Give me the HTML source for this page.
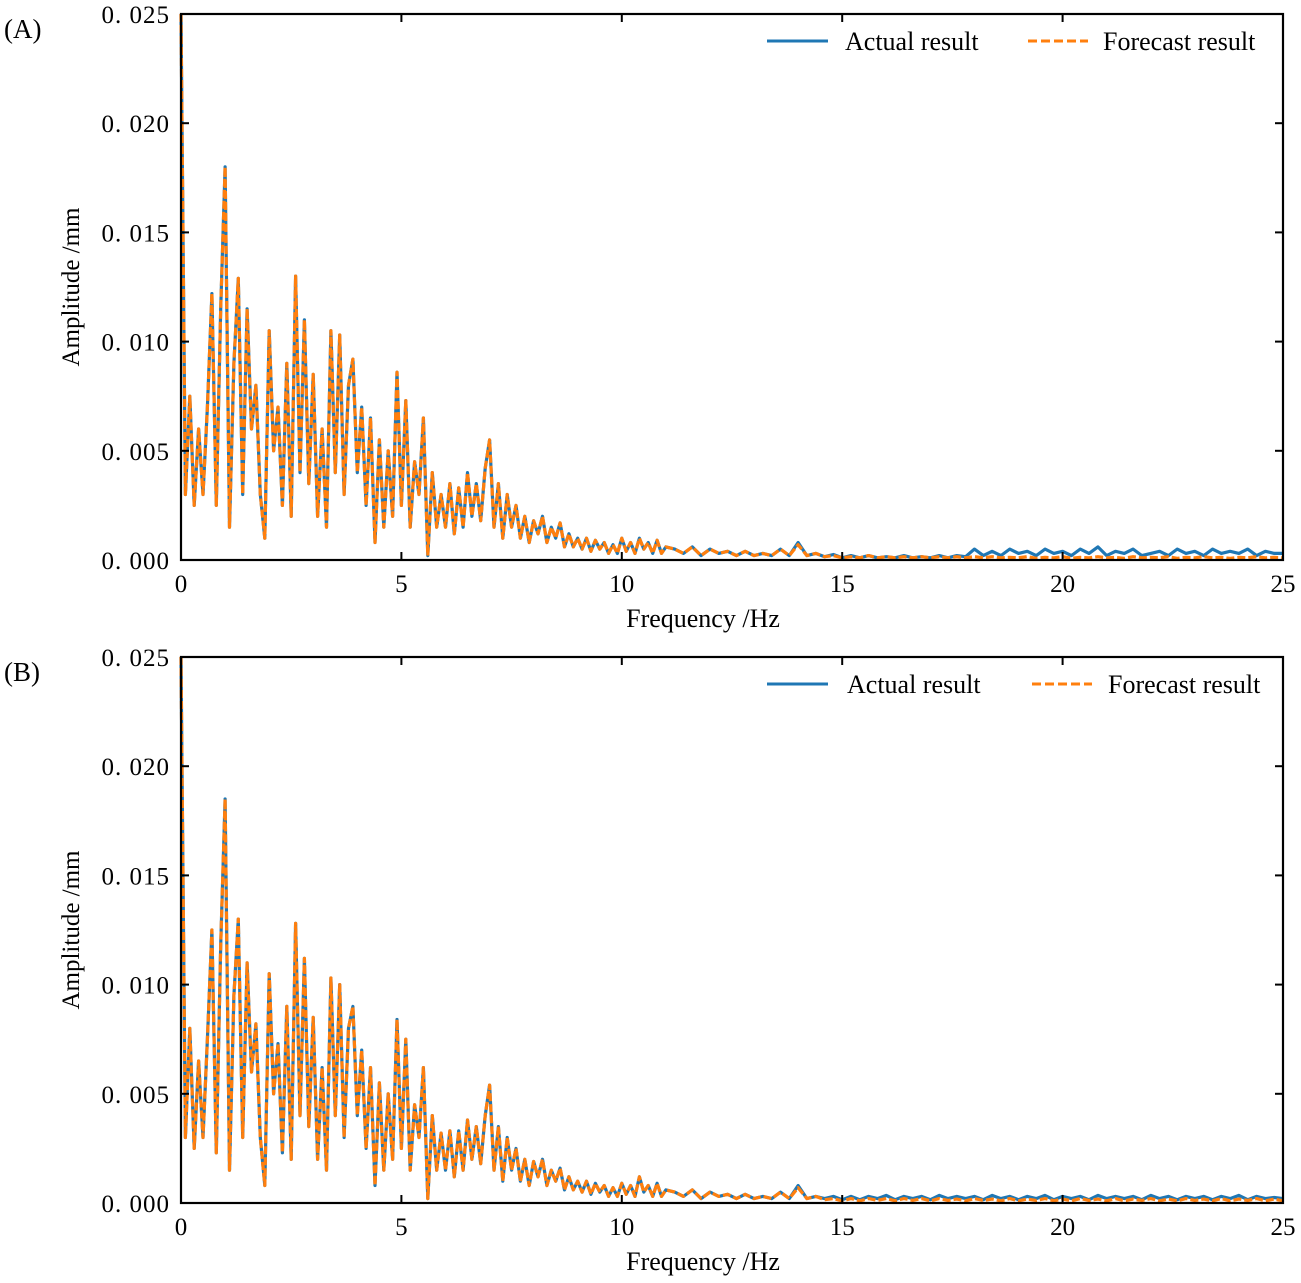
<!DOCTYPE html>
<html><head><meta charset="utf-8"><style>
body{margin:0;background:#fff;}
svg{display:block;font-family:"Liberation Serif",serif;}
</style></head><body>
<svg id="fig" width="1301" height="1283" viewBox="0 0 1301 1283" xmlns="http://www.w3.org/2000/svg"></svg>
<script>
// data (amplitude in 0.001 mm)
const lowStep = 0.1;   // 0..11 Hz
const tailStart = 11.2, tailStep = 0.2; // 11.2..25 Hz
const aActualLow = [25,3,7.5,2.5,6,3,7,12.2,2.5,11.5,18,1.5,9,12.9,3,11.5,6,8,3,1,10.5,5,7,2.5,9,2,13,4,11,3.5,8.5,2,6,1.5,10.5,4,10.3,3,8,9.2,4,7,2.5,6.5,0.8,5.5,1.5,5,2,8.6,2.5,7.3,1.5,4.5,3,6.5,0.2,4,1.5,3,1.5,3.5,1.2,3.3,1.5,4,2,3.5,1.8,4.2,5.5,1.5,3.5,1,3,1.5,2.5,1,2,0.8,1.8,1.2,2,0.8,1.5,1,1.7,0.6,1.2,0.6,1,0.5,1,0.4,0.9,0.5,0.8,0.3,0.7,0.3,1,0.4,0.8,0.3,1,0.5,0.8,0.3,0.9,0.3,0.6];
const aForecastLow = aActualLow.slice();
const aActualTail = [0.5,0.3,0.6,0.2,0.5,0.3,0.4,0.2,0.4,0.2,0.3,0.2,0.5,0.2,0.8,0.2,0.3,0.15,0.25,0.1,0.2,0.1,0.2,0.1,0.15,0.1,0.2,0.1,0.15,0.1,0.2,0.1,0.2,0.15,0.5,0.2,0.4,0.2,0.5,0.3,0.4,0.2,0.5,0.3,0.4,0.2,0.5,0.3,0.6,0.2,0.4,0.3,0.5,0.2,0.3,0.4,0.2,0.5,0.3,0.4,0.2,0.5,0.3,0.4,0.3,0.5,0.2,0.4,0.3,0.3];
const aForecastTail = [0.5,0.3,0.6,0.2,0.5,0.3,0.4,0.2,0.4,0.2,0.3,0.2,0.5,0.2,0.7,0.2,0.3,0.15,0.2,0.1,0.15,0.1,0.2,0.1,0.15,0.1,0.15,0.1,0.15,0.1,0.15,0.1,0.15,0.1,0.15,0.1,0.15,0.1,0.12,0.1,0.15,0.08,0.12,0.1,0.15,0.08,0.12,0.1,0.15,0.1,0.12,0.08,0.15,0.1,0.12,0.1,0.15,0.08,0.12,0.1,0.15,0.1,0.12,0.08,0.12,0.1,0.15,0.1,0.12,0.1];
const bActualLow = [25,3,8,2.5,6.5,3,7.5,12.5,2.3,11.8,18.5,1.5,9.5,13,3,11,6,8.2,3,0.8,10.5,5,7.3,2.3,9,2,12.8,4,11.2,3.5,8.5,2,6.2,1.5,10.3,4,10,3,8,9,4,7,2.5,6.2,0.8,5.5,1.5,5,2,8.4,2.5,7.5,1.5,4.5,3,6.2,0.2,4,1.5,3.2,1.5,3.3,1.2,3.3,1.5,3.8,2,3.5,1.8,4,5.4,1.5,3.5,1,3,1.5,2.5,1,2,0.8,1.9,1.2,2,0.8,1.5,1,1.6,0.6,1.2,0.6,1,0.5,1,0.4,0.9,0.5,0.8,0.3,0.7,0.3,0.9,0.4,0.8,0.3,1.2,0.5,0.8,0.3,0.9,0.3,0.6];
const bForecastLow = bActualLow.slice();
const bActualTail = [0.5,0.3,0.6,0.2,0.5,0.3,0.4,0.2,0.4,0.2,0.3,0.2,0.5,0.2,0.8,0.2,0.3,0.2,0.3,0.15,0.3,0.15,0.3,0.2,0.35,0.15,0.3,0.2,0.3,0.15,0.35,0.2,0.3,0.2,0.3,0.15,0.35,0.2,0.3,0.15,0.3,0.2,0.35,0.15,0.3,0.2,0.3,0.15,0.35,0.2,0.3,0.2,0.3,0.15,0.35,0.2,0.3,0.15,0.3,0.2,0.3,0.15,0.3,0.2,0.35,0.15,0.3,0.2,0.25,0.2];
const bForecastTail = [0.5,0.3,0.6,0.2,0.5,0.3,0.4,0.2,0.4,0.2,0.3,0.2,0.5,0.2,0.7,0.2,0.3,0.15,0.2,0.1,0.2,0.1,0.2,0.12,0.2,0.1,0.2,0.12,0.2,0.1,0.2,0.12,0.18,0.1,0.2,0.12,0.18,0.1,0.2,0.1,0.18,0.12,0.2,0.1,0.18,0.1,0.2,0.12,0.18,0.1,0.2,0.1,0.18,0.12,0.2,0.1,0.18,0.1,0.2,0.12,0.18,0.1,0.2,0.1,0.18,0.12,0.2,0.1,0.18,0.1];
const xTicks = [0,5,10,15,20,25];
const yTicks = [0,5,10,15,20,25];
const yTickLabels = ["0. 000","0. 005","0. 010","0. 015","0. 020","0. 025"];

const svg = document.getElementById('fig');
const NS = 'http://www.w3.org/2000/svg';
function mk(tag, attrs, parent){const e=document.createElementNS(NS,tag);for(const k in attrs)e.setAttribute(k,attrs[k]);(parent||svg).appendChild(e);return e;}

function panel(label, top, actualLow, actualTail, fcLow, fcTail, legX){
  const L=181,R=1283,T=top,B=top+546;
  const g=mk('g',{});
  
  
  const xs=f=>L+(f/25)*(R-L);
  const ys=v=>B-(v/25)*(B-T);
  function pts(low,tail){const p=[];low.forEach((v,i)=>p.push(xs(i*lowStep).toFixed(1)+','+ys(v).toFixed(1)));tail.forEach((v,i)=>p.push(xs(tailStart+i*tailStep).toFixed(1)+','+ys(v).toFixed(1)));return p.join(' ');}
  const a=mk('polyline',{points:pts(actualLow,actualTail),fill:'none',stroke:'#1f77b4','stroke-width':3.2,'stroke-linejoin':'round'},g);
  
  
  const f=mk('polyline',{points:pts(fcLow,fcTail),fill:'none',stroke:'#ff7f0e','stroke-width':3.2,'stroke-dasharray':'8,3','stroke-linejoin':'round'},g);
  
  
  const fr=mk('rect',{x:L,y:T,width:R-L,height:B-T,fill:'none',stroke:'#000','stroke-width':2.2},g);
  
  
  xTicks.forEach(t=>{
    const x=xs(t);
    mk('line',{x1:x,y1:B,x2:x,y2:B-8,stroke:'#000','stroke-width':2},g);
    mk('line',{x1:x,y1:T,x2:x,y2:T+8,stroke:'#000','stroke-width':2},g);
    const tx=mk('text',{x:x,y:B+32,'text-anchor':'middle','font-size':25},g);
    tx.textContent=t;
    
    
  });
  yTicks.forEach((t,i)=>{
    const y=ys(t);
    mk('line',{x1:L,y1:y,x2:L+8,y2:y,stroke:'#000','stroke-width':2},g);
    mk('line',{x1:R,y1:y,x2:R-8,y2:y,stroke:'#000','stroke-width':2},g);
    const ty=mk('text',{x:L-11,y:y+9,'text-anchor':'end','font-size':25,'letter-spacing':'1'},g);
    ty.textContent=yTickLabels[i];
    
    
  });
  const xl=mk('text',{x:703,y:B+67,'text-anchor':'middle','font-size':26},g);
  xl.textContent='Frequency /Hz';
  
  
  const yl=mk('text',{x:0,y:0,'text-anchor':'middle','font-size':25,transform:'translate(79,'+(T+273)+') rotate(-90)'},g);
  yl.textContent='Amplitude /mm';
  
  
  const pl=mk('text',{x:4,y:T+24,'font-size':27},g);
  pl.textContent='('+label+')';
  
  
  const ly=T+27;
  mk('line',{x1:767,y1:ly,x2:828,y2:ly,stroke:'#1f77b4','stroke-width':3},g);
  const lt1=mk('text',{x:legX[0],y:ly+9,'font-size':26},g);
  lt1.textContent='Actual result';
  
  
  mk('line',{x1:legX[1],y1:ly,x2:legX[1]+60,y2:ly,stroke:'#ff7f0e','stroke-width':3,'stroke-dasharray':'9,4'},g);
  const lt2=mk('text',{x:legX[2],y:ly+9,'font-size':26},g);
  lt2.textContent='Forecast result';
  
  
}
panel('A',14,aActualLow,aActualTail,aForecastLow,aForecastTail,[845,1028,1103]);
panel('B',657,bActualLow,bActualTail,bForecastLow,bForecastTail,[847,1032,1108]);
</script>
</body></html>
